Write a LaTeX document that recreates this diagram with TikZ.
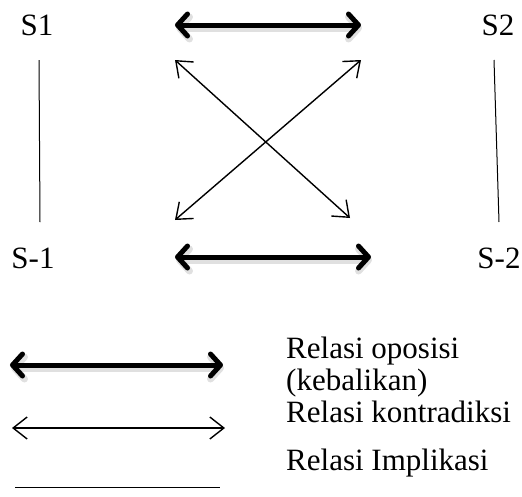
\documentclass[tikz,border=0pt]{standalone}
\usepackage{fontspec}
\setmainfont{Liberation Serif}
\usetikzlibrary{arrows.meta}
\begin{document}
\begin{tikzpicture}[x=1pt,y=1pt,
  lbl/.style={font=\fontsize{31}{35}\selectfont, inner sep=0pt},
  thickarr/.style={line width=5pt, line cap=round,
    {Straight Barb[length=10pt,width=22pt,line width=5pt,line cap=round,line join=round]}-{Straight Barb[length=10pt,width=22pt,line width=5pt,line cap=round,line join=round]}},
  shadowarr/.style={line width=7pt, draw=black, opacity=0.12, line cap=round,
    {Straight Barb[length=10pt,width=22pt,line width=7pt,line cap=round,line join=round]}-{Straight Barb[length=10pt,width=22pt,line width=7pt,line cap=round,line join=round]}},
  thinarr/.style={line width=1.4pt,
    {Straight Barb[length=14pt,width=22pt,line width=1.4pt]}-{Straight Barb[length=14pt,width=22pt,line width=1.4pt]}},
  impl/.style={line width=1pt}
]
\useasboundingbox (0,0) rectangle (522,-496);

% labels
\node[lbl] (S1)  at (37,-25)  {S1};
\node[lbl] (S2)  at (498,-25) {S2};
\node[lbl] (Sm1) at (33,-258) {S-1};
\node[lbl] (Sm2) at (499,-258) {S-2};

% free ends of the arrows
\coordinate (t1) at (175,-25);  \coordinate (t2) at (361,-25);
\coordinate (b1) at (175,-257); \coordinate (b2) at (371,-257);
\coordinate (d1) at (175,-60);  \coordinate (d2) at (350,-218);
\coordinate (d3) at (361,-60);  \coordinate (d4) at (175,-220);
\coordinate (l1) at (39,-60);   \coordinate (l2) at (40,-222);
\coordinate (r1) at (494,-60);  \coordinate (r2) at (499,-222);

% opposition (thick) arrows with soft shadow
\draw[shadowarr] ([shift={(1,-3)}]t1) -- ([shift={(1,-3)}]t2);
\draw[shadowarr] ([shift={(1,-3)}]b1) -- ([shift={(1,-3)}]b2);
\draw[thickarr] (t1) -- (t2);
\draw[thickarr] (b1) -- (b2);

% contradiction arrows
\draw[thinarr] (d1) -- (d2);
\draw[thinarr] (d3) -- (d4);

% implication lines
\draw[impl] (l1) -- (l2);
\draw[impl] (r1) -- (r2);

% legend
\coordinate (k1) at (10,-365);  \coordinate (k2) at (223,-365);
\coordinate (c1) at (12,-428);  \coordinate (c2) at (225,-428);
\coordinate (i1) at (15,-487);  \coordinate (i2) at (220,-487);
\draw[shadowarr] ([shift={(1,-3)}]k1) -- ([shift={(1,-3)}]k2);
\draw[thickarr] (k1) -- (k2);
\draw[thinarr] (c1) -- (c2);
\draw[impl] (i1) -- (i2);

\node[lbl, anchor=base west] (L1) at (286,-358) {Relasi oposisi};
\node[lbl, anchor=base west] (L2) at (286,-390) {(kebalikan)};
\node[lbl, anchor=base west] (L3) at (286,-422) {Relasi kontradiksi};
\node[lbl, anchor=base west] (L4) at (286,-470) {Relasi Implikasi};
\end{tikzpicture}
\end{document}
